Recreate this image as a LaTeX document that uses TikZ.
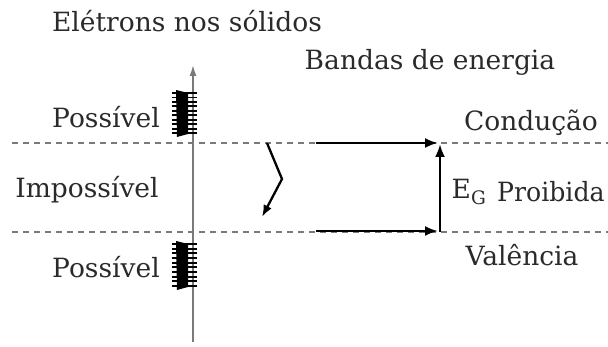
\documentclass[tikz,border=0pt]{standalone}
\usepackage{fontspec}
\setmainfont{DejaVu Serif}
\usetikzlibrary{arrows.meta}
\definecolor{txt}{HTML}{2A2A2A}
\definecolor{ln}{HTML}{7A7A7A}
\tikzset{
  lbl/.style={inner sep=0pt, text=txt, font=\fontsize{26.5}{30}\selectfont},
  dash line/.style={draw=ln, line width=1.6pt, dash pattern=on 6pt off 5pt},
  big arrow/.style={draw=black, line width=2.6pt, -{Latex[length=13pt,width=10pt]}},
  tick/.style={draw=black, line width=1.9pt},
}
\begin{document}
\begin{tikzpicture}[x=1pt,y=-1pt]
\useasboundingbox (0,0) rectangle (608,347);
% dashed level lines
\coordinate (u1) at (12,143); \coordinate (u2) at (608,143);
\coordinate (l1) at (12,232); \coordinate (l2) at (608,232);
\draw[dash line] (u1) -- (u2);
\draw[dash line] (l1) -- (l2);
% axis
\coordinate (ax0) at (193,342); \coordinate (ax1) at (193,65);
\draw[draw=ln, line width=1.6pt, -{Latex[length=11pt,width=7pt]}] (ax0) -- (ax1);
% combs
\foreach \y/\h in {90/47, 241/49}{
  \fill[black] (176,\y) -- (188,\y+3) -- (188,\y+\h-3) -- (177,\y+\h) -- cycle;
  \foreach \k in {0,...,9}{
    \draw[tick] (172,\y+3+\k*\h/10.5) -- (197,\y+3+\k*\h/10.5);
  }
}
% labels
\node[lbl] (title) at (187,21) {Elétrons nos sólidos};
\node[lbl] (bandas) at (430,62) {Bandas de energia};
\node[lbl] (poss1) at (106,117) {Possível};
\node[lbl] (imposs) at (87,190) {Impossível};
\node[lbl] (poss2) at (106,267) {Possível};
\node[lbl] (cond) at (531,123) {Condução};
\node[lbl] (eg) at (469,192) {E\textsubscript{G}};
\node[lbl, anchor=west, xscale=0.95] (proib) at (497,192) {Proibida};
\node[lbl] (val) at (522,255) {Valência};
% zigzag
\coordinate (z0) at (267,143); \coordinate (z1) at (282,179); \coordinate (z2) at (262,217);
\draw[big arrow, line width=2.3pt, -{Latex[length=12pt,width=9pt]}] (z0) -- (z1) -- (z2);
% arrows
\coordinate (a1) at (316,143); \coordinate (a2) at (438,143);
\coordinate (b1) at (316,231); \coordinate (b2) at (438,231);
\coordinate (c1) at (440,232); \coordinate (c2) at (440,144);
\draw[big arrow] (a1) -- (a2);
\draw[big arrow] (b1) -- (b2);
\draw[big arrow] (c1) -- (c2);
\end{tikzpicture}
\end{document}
